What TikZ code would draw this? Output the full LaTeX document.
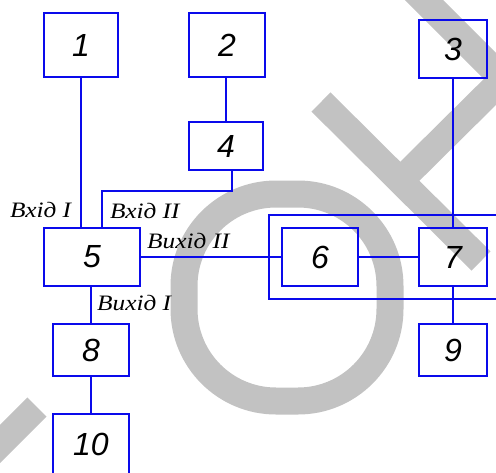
\documentclass[tikz,border=0pt]{standalone}
\usepackage{fontspec}
\newfontfamily\digitfont{Liberation Sans}
\newfontfamily\labelfont[FakeStretch=1.15]{Liberation Serif}
\definecolor{wire}{RGB}{10,10,235}
\definecolor{shade}{RGB}{194,194,194}
\begin{document}
\begin{tikzpicture}[x=1pt,y=-1pt,
  blk/.style={draw=wire, line width=2.4pt, inner sep=0pt,
    font=\digitfont\itshape\fontsize{32}{32}\selectfont},
  wireline/.style={draw=wire, line width=2.4pt},
  portlabel/.style={anchor=base west, inner sep=0pt,
    font=\labelfont\itshape\fontsize{22}{22}\selectfont}]
\useasboundingbox (0,0) rectangle (496,472);

% light background lettering
\begin{scope}[draw=shade, line width=27pt]
  \draw[rounded corners=92pt] (184,194) rectangle (390,401);
  \draw (321,102) -- (481,261);
  \draw (353,-71) -- (537,113);
  \draw (400,181) -- (503,79);
  \draw (37,407) -- (-61,505);
\end{scope}

% blocks
\node[blk, minimum width=74, minimum height=64] (b1) at (81,45) {1};
\node[blk, minimum width=76, minimum height=64] (b2) at (227,45) {2};
\node[blk, minimum width=74, minimum height=48] (b4) at (226,146) {4};
\node[blk, minimum width=68, minimum height=58] (b3) at (453,49) {3};
\node[blk, minimum width=96, minimum height=58] (b5) at (92,257) {5};
\node[blk, minimum width=76, minimum height=58] (b6) at (320,257) {6};
\node[blk, minimum width=68, minimum height=58] (b7) at (453,257) {7};
\node[blk, minimum width=76, minimum height=52] (b8) at (91,350) {8};
\node[blk, minimum width=68, minimum height=52] (b9) at (453,350) {9};
\node[blk, minimum width=76, minimum height=60] (b10) at (91,444) {10};

% frame around blocks 6 and 7, open to the right
\coordinate (frTL) at (269,215);
\coordinate (frBL) at (269,299);
\coordinate (frTR) at (510,215);
\coordinate (frBR) at (510,299);
\draw[wireline] (frTR) -- (frTL) -- (frBL) -- (frBR);

% connections
\draw[wireline] (b1.south) -- (b1.south |- b5.north);
\draw[wireline] (b4.north |- b2.south) -- (b4.north);
\draw[wireline] ([xshift=6pt]b4.south) -- ++(0,20) -| ([xshift=10pt]b5.north);
\draw[wireline] (b5.east) -- (b5.east -| b6.west);
\draw[wireline] (b6.east) -- (b6.east -| b7.west);
\draw[wireline] (b3.south) -- (b3.south |- b7.north);
\draw[wireline] (b8.north |- b5.south) -- (b8.north);
\draw[wireline] (b8.south) -- (b10.north);
\draw[wireline] (b7.south) -- (b7.south |- b9.north);

% port labels
\node[portlabel] (inI) at (10,217) {Вхід I};
\node[portlabel] (inII) at (110,218) {Вхід II};
\node[portlabel] (outII) at (147,248) {Вихід II};
\node[portlabel] (outI) at (97,310) {Вихід I};
\end{tikzpicture}
\end{document}
